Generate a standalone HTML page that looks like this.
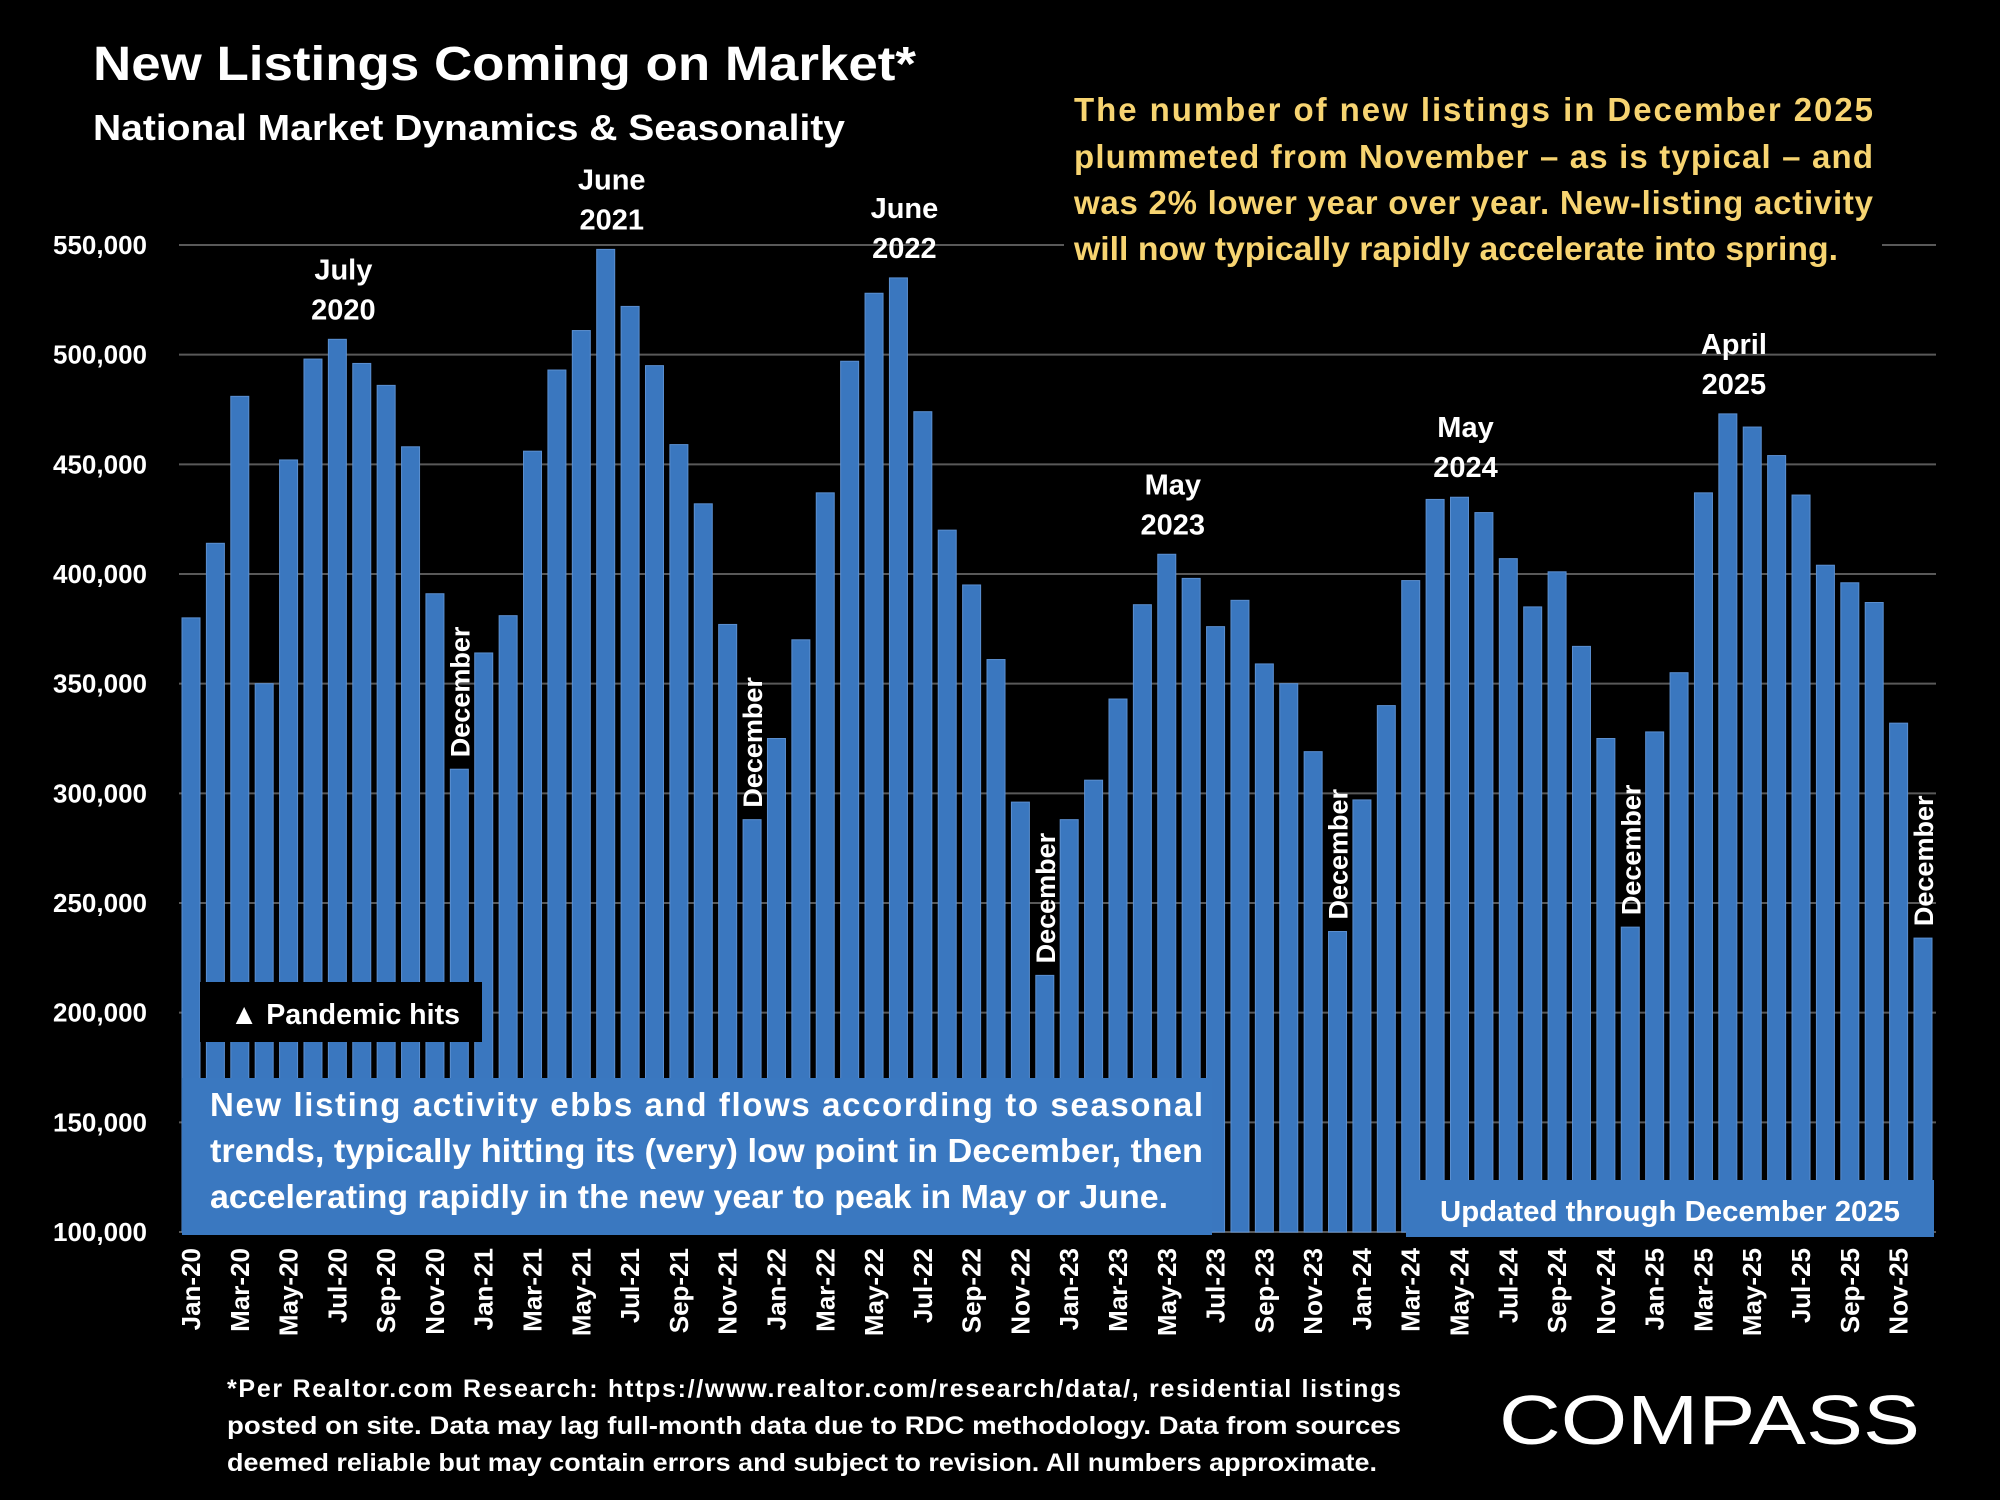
<!DOCTYPE html>
<html><head><meta charset="utf-8"><style>
html,body{margin:0;padding:0;background:#000;}
svg{display:block;font-family:"Liberation Sans",sans-serif;font-weight:bold;}
</style></head><body>
<svg id="chart" width="2000" height="1500" viewBox="0 0 2000 1500" xmlns="http://www.w3.org/2000/svg">
<rect width="2000" height="1500" fill="#000"/>
<text x="93" y="80" fill="#fff" font-size="48" textLength="823" lengthAdjust="spacingAndGlyphs">New Listings Coming on Market*</text>
<text x="93" y="140" fill="#fff" font-size="36" textLength="752" lengthAdjust="spacingAndGlyphs">National Market Dynamics &amp; Seasonality</text>
<g id="grid"></g>
<g fill="#f7d471" font-size="33">
<rect x="1064" y="86" width="818" height="190" fill="#000"/>
<text x="1074" y="121" textLength="799" lengthAdjust="spacing">The number of new listings in December 2025</text>
<text x="1074" y="168" textLength="799" lengthAdjust="spacing">plummeted from November – as is typical – and</text>
<text x="1074" y="214" textLength="799" lengthAdjust="spacing">was 2% lower year over year. New-listing activity</text>
<text x="1074" y="260" textLength="764" lengthAdjust="spacingAndGlyphs">will now typically rapidly accelerate into spring.</text>
</g>
<g id="yaxis"></g>
<g id="bars"></g>
<g id="xaxis"></g>
<g id="notes"></g>
<g>
<rect x="200" y="982" width="282" height="60" fill="#000"/>
<text x="230" y="1024" fill="#fff" font-size="29" textLength="230" lengthAdjust="spacingAndGlyphs">▲ Pandemic hits</text>
</g>
<g>
<rect x="182" y="1078" width="1030" height="157" fill="#3a78c0"/>
<g fill="#fff" font-size="33">
<text x="210" y="1116" textLength="993" lengthAdjust="spacing">New listing activity ebbs and flows according to seasonal</text>
<text x="210" y="1162" textLength="993" lengthAdjust="spacingAndGlyphs">trends, typically hitting its (very) low point in December, then</text>
<text x="210" y="1208" textLength="958" lengthAdjust="spacingAndGlyphs">accelerating rapidly in the new year to peak in May or June.</text>
</g></g>
<g>
<rect x="1406" y="1180" width="528" height="57" fill="#3a78c0"/>
<text x="1670" y="1221" fill="#fff" font-size="29" text-anchor="middle" textLength="460" lengthAdjust="spacingAndGlyphs">Updated through December 2025</text>
</g>
<g fill="#fff" font-size="25">
<text x="227" y="1397" textLength="1174" lengthAdjust="spacing">*Per Realtor.com Research:  https://www.realtor.com/research/data/, residential listings</text>
<text x="227" y="1434" textLength="1174" lengthAdjust="spacingAndGlyphs">posted on site. Data may lag full-month data due to RDC methodology. Data from sources</text>
<text x="227" y="1471" textLength="1150" lengthAdjust="spacingAndGlyphs">deemed reliable but may contain errors and subject to revision. All numbers approximate.</text>
</g>
<text x="1499" y="1444" fill="#fff" font-size="70" font-weight="normal" textLength="421" lengthAdjust="spacingAndGlyphs">COMPASS</text>
<script>
const months=["Jan","Feb","Mar","Apr","May","Jun","Jul","Aug","Sep","Oct","Nov","Dec"];
const years=["20","21","22","23","24","25"];
const values=[380,414,481,350,452,498,507,496,486,458,391,311,
364,381,456,493,511,548,522,495,459,432,377,288,
325,370,437,497,528,535,474,420,395,361,296,217,
288,306,343,386,409,398,376,388,359,350,319,237,
297,340,397,434,435,428,407,385,401,367,325,239,
328,355,437,473,467,454,436,404,396,387,332,234];
const yTicks=[100,150,200,250,300,350,400,450,500,550];
const peakIdx=[6,17,29,40,52,63];
const peakLabels=[["July","2020"],["June","2021"],["June","2022"],["May","2023"],["May","2024"],["April","2025"]];
const decIdx=[11,23,35,47,59,71];
const NS="http://www.w3.org/2000/svg";
const y=v=>1232-(v-100)*(1232-245)/450;
const x=i=>191+i*(1923-191)/71;
function mk(tag,attrs,parent,txt){const e=document.createElementNS(NS,tag);for(const k in attrs)e.setAttribute(k,attrs[k]);if(txt!==undefined)e.textContent=txt;parent.appendChild(e);return e;}
const grid=document.getElementById('grid'),ya=document.getElementById('yaxis'),bars=document.getElementById('bars'),xa=document.getElementById('xaxis'),notes=document.getElementById('notes');
yTicks.forEach(t=>{
  const l=mk('line',{x1:179,x2:1936,y1:y(t),y2:y(t),stroke:'#595959','stroke-width':2},grid);
  
  
  const tx=mk('text',{x:147,y:y(t)+9,fill:'#fff','font-size':26,'text-anchor':'end'},ya,(t*1000).toLocaleString('en-US'));
  
  
});
values.forEach((v,i)=>{
  const r=mk('rect',{x:x(i)-9,y:y(v),width:18,height:y(100)-y(v),fill:'#3a77bf',stroke:'#5b8fd0','stroke-width':1},bars);
  
  
  if(i%2===0){
    const lbl=months[i%12]+'-'+years[Math.floor(i/12)];
    const tx=mk('text',{transform:`translate(${x(i)+9},1248) rotate(-90)`,fill:'#fff','font-size':26,'text-anchor':'end'},xa,lbl);
    
    
  }
});
peakIdx.forEach((p,k)=>{
  const g=mk('g',{},notes);
  
  
  mk('text',{x:x(p)+6,y:y(values[p])-60,fill:'#fff','font-size':29,'text-anchor':'middle'},g,peakLabels[k][0]);
  mk('text',{x:x(p)+6,y:y(values[p])-20,fill:'#fff','font-size':29,'text-anchor':'middle'},g,peakLabels[k][1]);
});
decIdx.forEach(d=>{
  const tx=mk('text',{transform:`translate(${x(d)+10},${y(values[d])-12}) rotate(-90)`,fill:'#fff','font-size':27},notes,'December');
  
  
});
</script>
</svg>
</body></html>
